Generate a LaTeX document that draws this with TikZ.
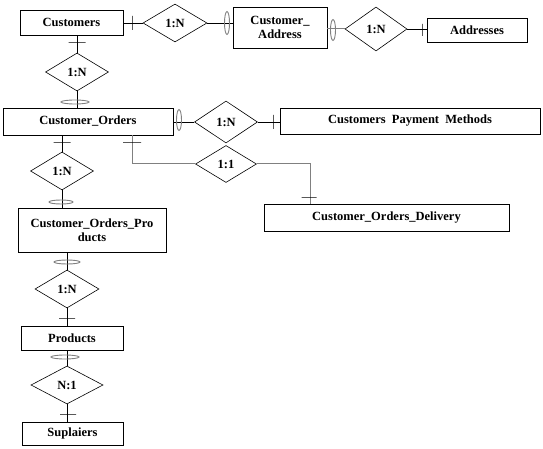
\documentclass[tikz,border=0pt]{standalone}
\usepackage{fontspec}
\setmainfont{Liberation Serif}
\usepackage{tikz}
\usetikzlibrary{shapes.geometric, calc}

\begin{document}
\begin{tikzpicture}[
    x=1pt, y=-1pt,
    entity/.style={draw, rectangle, line width=0.7pt, inner sep=1pt, align=center, font=\bfseries\fontsize{12.5}{14.5}\selectfont},
    rel/.style={draw, diamond, line width=0.6pt, inner sep=0pt, font=\bfseries\fontsize{12.5}{14}\selectfont},
    link/.style={line width=0.6pt},
    softlink/.style={draw=gray, line width=1pt},
    htick/.style={draw, rectangle, line width=0.6pt, minimum width=17pt, minimum height=0pt, inner sep=0pt},
    vtick/.style={draw, rectangle, line width=0.6pt, minimum width=0pt, minimum height=14pt, inner sep=0pt},
    hoval/.style={draw=gray, line width=0.9pt, ellipse, inner sep=0pt, minimum width=26pt, minimum height=4pt},
    voval/.style={draw=gray, line width=0.9pt, ellipse, inner sep=0pt, minimum width=5pt, minimum height=21pt}
]
    \useasboundingbox (0,0) rectangle (543,449);

    % Entities
    \node[entity, minimum width=103pt, minimum height=25pt] (cust) at (71.5,22.5) {Customers};
    \node[entity, minimum width=94pt, minimum height=41pt] (custaddr) at (280,27.5) {Customer\_\\Address};
    \node[entity, minimum width=100pt, minimum height=24pt] (addr) at (477,30) {Addresses};
    \node[entity, minimum width=170pt, minimum height=27pt] (ord) at (88,121.5) {Customer\_Orders};
    \node[entity, minimum width=260pt, minimum height=26pt] (pay) at (410,121) {Customers\ \ Payment\ \ Methods};
    \node[entity, minimum width=245pt, minimum height=27pt] (deliv) at (386.5,217.5) {Customer\_Orders\_Delivery};
    \node[entity, minimum width=148pt, minimum height=44pt] (cop) at (92,230) {Customer\_Orders\_Pro\\ducts};
    \node[entity, minimum width=102pt, minimum height=24pt] (prod) at (72,338) {Products};
    \node[entity, minimum width=101pt, minimum height=23pt] (supp) at (72.5,433.5) {Suplaiers};

    % Relationships
    \node[rel, minimum width=64pt, minimum height=38pt] (custaddrrel) at (175,23) {1:N};
    \node[rel, minimum width=62pt, minimum height=44pt] (addrrel) at (376,29) {1:N};
    \node[rel, minimum width=63pt, minimum height=38pt] (ordrel) at (77,72) {1:N};
    \node[rel, minimum width=63pt, minimum height=42pt] (payrel) at (226,122) {1:N};
    \node[rel, minimum width=61pt, minimum height=37pt] (delivrel) at (226,164) {1:1};
    \node[rel, minimum width=63pt, minimum height=38pt] (coprel) at (62,171) {1:N};
    \node[rel, minimum width=64pt, minimum height=38pt] (prodrel) at (67,289) {1:N};
    \node[rel, minimum width=72pt, minimum height=38pt] (supprel) at (67,385) {N:1};

    % Connectors
    \draw[link] (cust.east |- custaddrrel.west) -- (custaddrrel.west);
    \draw[link] (custaddrrel.east) -- (custaddrrel.east -| custaddr.west);
    \draw[softlink] (custaddr.east |- addrrel.west) -- (addrrel.west);
    \draw[link] (addrrel.east) -- (addrrel.east -| addr.west);
    \draw[link] (ordrel.north |- cust.south) -- (ordrel.north);
    \draw[link] (ordrel.south) -- (ordrel.south |- ord.north);
    \draw[link] (ord.east |- payrel.west) -- (payrel.west);
    \draw[link] (payrel.east) -- (payrel.east -| pay.west);
    \draw[softlink] ([xshift=44pt]ord.south) |- (delivrel.west);
    \draw[softlink] (delivrel.east) -| ([xshift=-76.5pt]deliv.north);
    \draw[link] (coprel.north |- ord.south) -- (coprel.north);
    \draw[link] (coprel.south) -- (coprel.south |- cop.north);
    \draw[link] (prodrel.north |- cop.south) -- (prodrel.north);
    \draw[link] (prodrel.south) -- (prodrel.south |- prod.north);
    \draw[link] (supprel.north |- prod.south) -- (supprel.north);
    \draw[link] (supprel.south) -- (supprel.south |- supp.north);

    % Cardinality marks
    \node[vtick] (t1) at (132,23) {};
    \node[voval, minimum height=23pt] (o1) at (227,23) {};
    \node[voval] (o2) at (333,30) {};
    \node[vtick, minimum height=12pt] (t2) at (422,30) {};
    \node[htick] (t3) at (77,42) {};
    \node[hoval, minimum width=28pt] (o3) at (75,102) {};
    \node[voval] (o4) at (179,120) {};
    \node[vtick] (t4) at (273,122) {};
    \node[htick, minimum width=18pt] (t5) at (132,142) {};
    \node[htick, minimum width=15pt] (t6) at (309,197) {};
    \node[htick] (t7) at (62,142) {};
    \node[hoval, minimum width=24pt] (o5) at (61,202) {};
    \node[hoval] (o6) at (67,262) {};
    \node[htick, minimum width=16pt] (t8) at (67,318) {};
    \node[hoval, minimum width=28pt] (o7) at (65,357) {};
    \node[htick, minimum width=16pt] (t9) at (68,414) {};
\end{tikzpicture}
\end{document}
